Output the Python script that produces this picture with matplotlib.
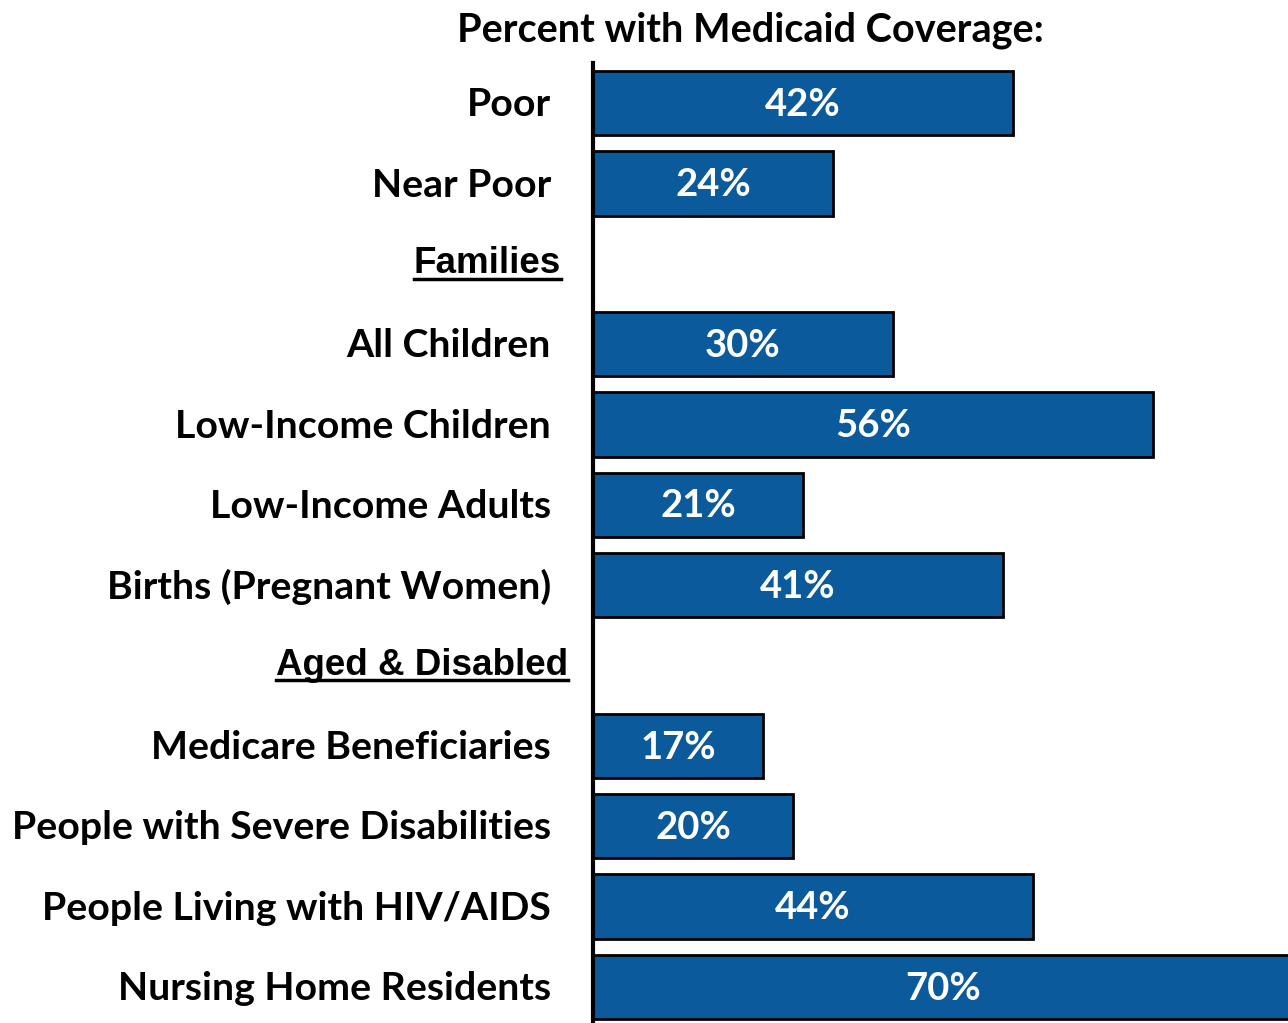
import matplotlib
matplotlib.use("Agg")
import matplotlib.pyplot as plt
from matplotlib.transforms import blended_transform_factory
from matplotlib.lines import Line2D

# rows top to bottom; None = section header without a bar
labels = ["Poor", "Near Poor", "Families", "All Children", "Low-Income Children",
          "Low-Income Adults", "Births (Pregnant Women)", "Aged & Disabled",
          "Medicare Beneficiaries", "People with Severe Disabilities",
          "People Living with HIV/AIDS", "Nursing Home Residents"]
values = [42, 24, None, 30, 56, 21, 41, None, 17, 20, 44, 70]
headers = {"Families": 561, "Aged & Disabled": 568}  # right edge in px

BAR_COLOR = "#0B5A9C"
FONT = "Lato"

fig = plt.figure(figsize=(12.88, 10.23), dpi=100)
ax = fig.add_axes([593 / 1288, -0.004, 1 - 593 / 1288, 0.9384 + 0.004])

ys = list(range(len(labels)))
for y, v in zip(ys, values):
    if v is None:
        continue
    ax.barh(y, v, height=0.8, color=BAR_COLOR, edgecolor="black", linewidth=2)
    ax.text(v / 2, y + 0.02, "%d%%" % v, color="white", ha="center", va="center",
            fontsize=27.5, fontweight="bold", family=FONT)

ax.set_xlim(0, 69.5)
ax.set_ylim(len(labels) - 0.5, -0.5)
ax.set_xticks([])
ax.set_yticks([])
for s in ["top", "right", "bottom"]:
    ax.spines[s].set_visible(False)
ax.spines["left"].set_linewidth(3)

trans = blended_transform_factory(fig.transFigure, ax.transData)
header_texts = []
for y, lab in zip(ys, labels):
    if lab in headers:
        t = ax.text(headers[lab] / 1288, y, lab, transform=trans, ha="right", va="center",
                    fontsize=26.5, fontweight="bold", family="Liberation Sans")
        header_texts.append(t)
    else:
        ax.text(551 / 1288, y + 0.02, lab, transform=trans, ha="right", va="center",
                fontsize=28.3, fontweight="bold", family=FONT)

fig.text(750 / 1288, 1 - 30 / 1023, "Percent with Medicaid Coverage:", ha="center",
         va="center", fontsize=28.5, fontweight="bold", family=FONT)

# underline the section headers
fig.canvas.draw()
renderer = fig.canvas.get_renderer()
for t in header_texts:
    bb = t.get_window_extent(renderer).transformed(fig.transFigure.inverted())
    yline = bb.y0 + 0.08 * (bb.y1 - bb.y0)
    fig.add_artist(Line2D([bb.x0, bb.x1], [yline, yline], transform=fig.transFigure,
                          color="black", linewidth=2.5))

fig.savefig("out.png", dpi=100)
